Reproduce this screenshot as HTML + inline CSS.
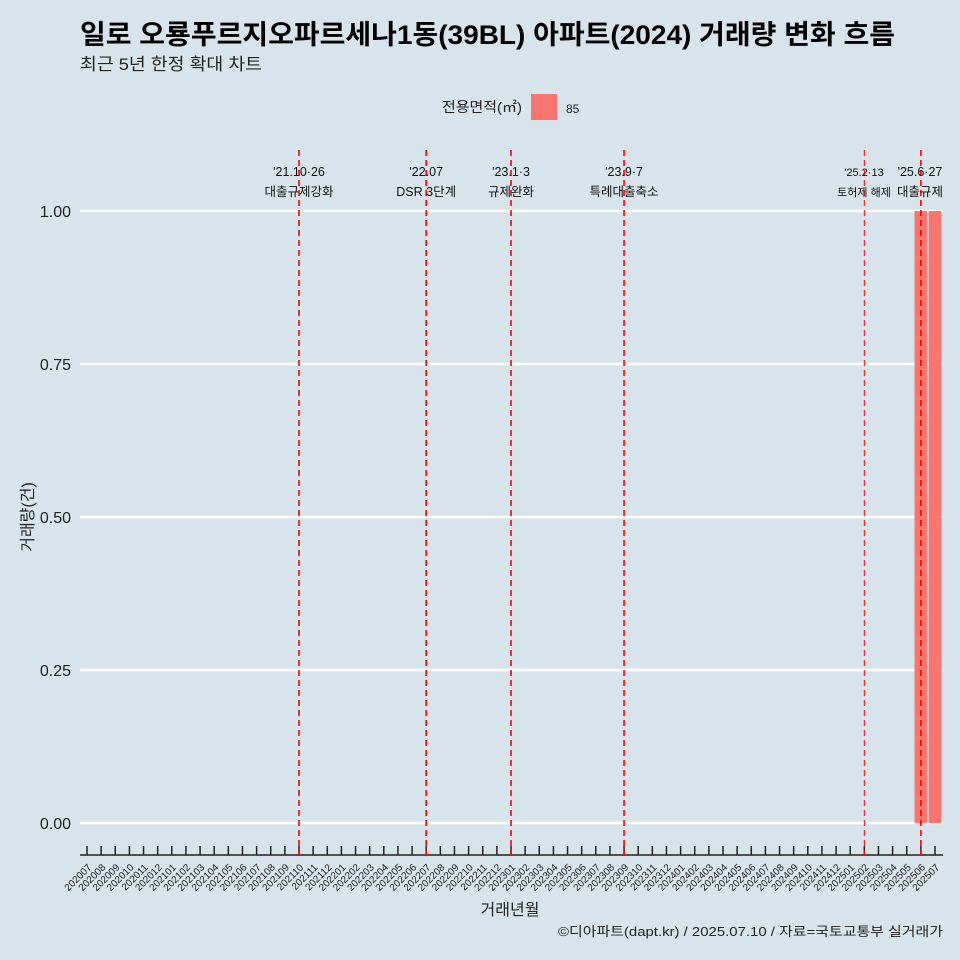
<!DOCTYPE html>
<html><head><meta charset="utf-8"><style>
body{margin:0;background:#d7e4eb;}
svg{display:block;font-family:"Liberation Sans","Noto Sans CJK KR",sans-serif;}
</style></head><body>
<svg id="c" width="960" height="960" viewBox="0 0 960 960">
<rect width="960" height="960" fill="#d7e4eb"/>
<text x="80" y="44" font-size="27" font-weight="bold" fill="#000" textLength="815" lengthAdjust="spacingAndGlyphs">일로 오룡푸르지오파르세나1동(39BL) 아파트(2024) 거래량 변화 흐름</text>
<text x="80" y="70" font-size="17" fill="#222" textLength="182" lengthAdjust="spacingAndGlyphs">최근 5년 한정 확대 차트</text>
<g>
<text x="442" y="112" font-size="14" fill="#222" textLength="80" lengthAdjust="spacingAndGlyphs">전용면적(㎡)</text>
<rect x="531" y="94" width="26" height="26" fill="#f8766d"/>
<text x="566" y="113" font-size="12" fill="#222">85</text>
</g>
<g id="grid"></g><g id="marks"></g><g id="xaxis"></g><g id="ann"></g>
<text x="510" y="915" font-size="16" text-anchor="middle" fill="#222">거래년월</text>
<text transform="translate(33,517) rotate(-90)" font-size="16" text-anchor="middle" fill="#222">거래량(건)</text>
<text x="943" y="936" font-size="13" text-anchor="end" fill="#222" textLength="385" lengthAdjust="spacingAndGlyphs">©디아파트(dapt.kr) / 2025.07.10 / 자료=국토교통부 실거래가</text>
</svg>
<script>
const months = [];
for (let y = 2020; y <= 2025; y++) for (let m = 1; m <= 12; m++) { const k = y * 100 + m; if (k >= 202007 && k <= 202507) months.push(String(k)); }
const barMonths = ["202506", "202507"];
const barValues = [1, 1];
const yTicks = [0, 0.25, 0.5, 0.75, 1.0];
const yTickLabels = ["0.00", "0.25", "0.50", "0.75", "1.00"];
const eventMonths = ["202110", "202207", "202301", "202309", "202502", "202506"];
const eventDates = ["'21.10·26", "'22.07", "'23.1·3", "'23.9·7", "'25.2·13", "'25.6·27"];
const eventLabels = ["대출규제강화", "DSR 3단계", "규제완화", "특례대출축소", "토허제 해제", "대출규제"];

const NS = "http://www.w3.org/2000/svg";
const x0 = 87, step = (935 - 87) / 60;
const xs = m => x0 + months.indexOf(m) * step;
const ys = v => 823 - v * (823 - 211);
function mk(p, tag, a) { const e = document.createElementNS(NS, tag); for (const k in a) e.setAttribute(k, a[k]); p.appendChild(e); return e; }
const grid = document.getElementById("grid"), marks = document.getElementById("marks"), xa = document.getElementById("xaxis"), ann = document.getElementById("ann");
yTicks.forEach((v, i) => {
  const l = mk(grid, "line", {x1: 80, x2: 943, y1: ys(v), y2: ys(v), stroke: "#fff", "stroke-width": 2.5});
  
  
  const t = mk(grid, "text", {x: 71, y: ys(v) + 6, "font-size": 16, "text-anchor": "end", fill: "#222"});
  t.textContent = yTickLabels[i];
  
  
});
barMonths.forEach((m, i) => {
  const w = step * 0.9;
  const r = mk(marks, "rect", {x: xs(m) - w / 2, y: ys(barValues[i]), width: w, height: ys(0) - ys(barValues[i]), fill: "#f8766d"});
  
  
});
const axl = mk(xa, "line", {x1: 80, x2: 943, y1: 855, y2: 855, stroke: "#222", "stroke-width": 1.5});


months.forEach(m => {
  const x = xs(m);
  const tk = mk(xa, "line", {x1: x, x2: x, y1: 846, y2: 855, stroke: "#222", "stroke-width": 1.5});
  
  
  const t = mk(xa, "text", {transform: `translate(${x + 5},${868}) rotate(-45)`, "font-size": 10, "text-anchor": "end", fill: "#222"});
  t.textContent = m;
  
  
});
eventMonths.forEach((m, i) => {
  const x = xs(m);
  const thin = m === "202502";
  const l = mk(ann, "line", {x1: x, x2: x, y1: 150, y2: 855, stroke: "#f00", "stroke-width": thin ? 1 : 1.6, "stroke-dasharray": "6,4"});
  
  
  const cx = m === "202506" ? 920 : (m === "202502" ? 864 : x);
  const fs = thin ? 11 : 12.5;
  const t1 = mk(ann, "text", {x: cx, y: 176, "font-size": fs, "text-anchor": "middle", fill: "#111"});
  t1.textContent = eventDates[i];
  
  
  const t2 = mk(ann, "text", {x: cx, y: 196, "font-size": fs, "text-anchor": "middle", fill: "#111"});
  t2.textContent = eventLabels[i];
  
  
});
</script>
</body></html>
